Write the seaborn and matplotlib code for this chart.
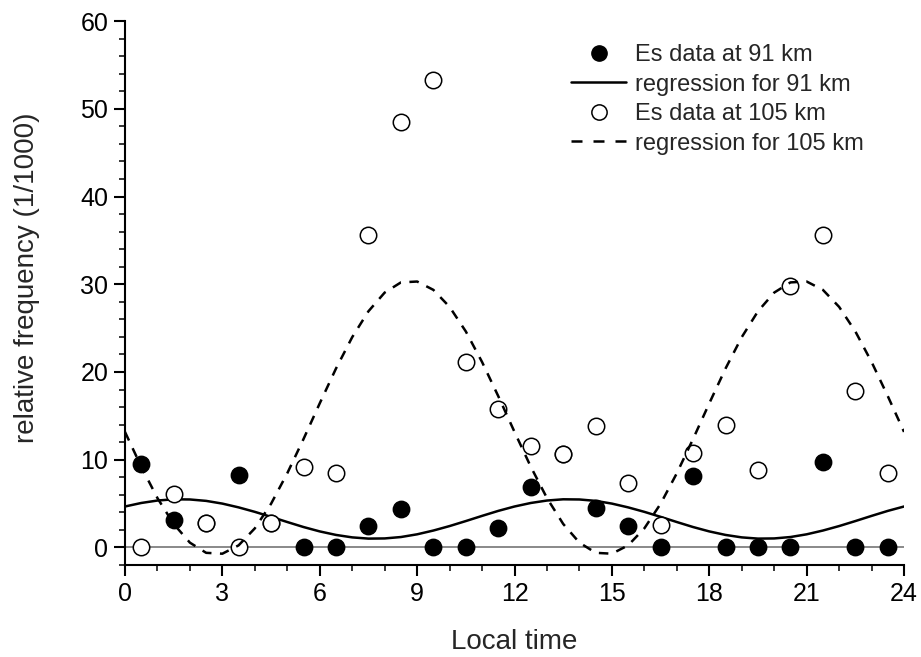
import numpy as np
import pandas as pd
import matplotlib
matplotlib.use("Agg")
import matplotlib.pyplot as plt
import seaborn as sns
from matplotlib.lines import Line2D
from matplotlib.ticker import MultipleLocator

# ---- data ----
hours = [0.5, 1.5, 2.5, 3.5, 4.5, 5.5, 6.5, 7.5, 8.5, 9.5, 10.5, 11.5,
         12.5, 13.5, 14.5, 15.5, 16.5, 17.5, 18.5, 19.5, 20.5, 21.5, 22.5, 23.5]
es91 = [9.5, 3.1, 2.8, 8.3, 2.8, 0.0, 0.0, 2.5, 4.4, 0.0, 0.0, 2.2,
        6.9, 10.7, 4.55, 2.5, 0.0, 8.1, 0.0, 0.0, 0.0, 9.7, 0.0, 0.0]
es105 = [0.0, 6.1, 2.8, 0.0, 2.8, 9.2, 8.5, 35.6, 48.5, 53.3, 21.1, 15.8,
         11.6, 10.7, 13.8, 7.4, 2.6, 10.75, 14.0, 8.85, 29.8, 35.6, 17.8, 8.5]

curve_t = [0.0, 0.5, 1.0, 1.5, 2.0, 2.5, 3.0, 3.5, 4.0, 4.5, 5.0, 5.5,
           6.0, 6.5, 7.0, 7.5, 8.0, 8.5, 9.0, 9.5, 10.0, 10.5, 11.0, 11.5,
           12.0, 12.5, 13.0, 13.5, 14.0, 14.5, 15.0, 15.5, 16.0, 16.5, 17.0, 17.5,
           18.0, 18.5, 19.0, 19.5, 20.0, 20.5, 21.0, 21.5, 22.0, 22.5, 23.0, 23.5, 24.0]
reg91 = [4.67, 5.07, 5.35, 5.49, 5.47, 5.31, 5.00, 4.57, 4.06, 3.49, 2.90, 2.33,
         1.83, 1.43, 1.15, 1.01, 1.03, 1.19, 1.50, 1.93, 2.44, 3.01, 3.60, 4.17,
         4.67, 5.07, 5.35, 5.49, 5.47, 5.31, 5.00, 4.57, 4.06, 3.49, 2.90, 2.33,
         1.83, 1.43, 1.15, 1.01, 1.03, 1.19, 1.50, 1.93, 2.44, 3.01, 3.60, 4.17, 4.67]
reg105 = [13.17, 9.21, 5.63, 2.68, 0.55, -0.61, -0.71, 0.24, 2.18, 4.98, 8.46, 12.36,
          16.43, 20.39, 23.97, 26.92, 29.05, 30.21, 30.31, 29.36, 27.42, 24.62, 21.14, 17.24,
          13.17, 9.21, 5.63, 2.68, 0.55, -0.61, -0.71, 0.24, 2.18, 4.98, 8.46, 12.36,
          16.43, 20.39, 23.97, 26.92, 29.05, 30.21, 30.31, 29.36, 27.42, 24.62, 21.14, 17.24, 13.17]

sns.set_style("ticks")
plt.rcParams['font.family'] = ['Liberation Sans', 'DejaVu Sans']

fig = plt.figure(figsize=(9.21, 6.57), dpi=100)
ax = fig.add_axes([0.1357, 0.140, 0.8459, 0.828])

pts = pd.DataFrame({"t": hours, "es91": es91, "es105": es105})
cur = pd.DataFrame({"t": curve_t, "reg91": reg91, "reg105": reg105})

LW = 1.8
DASH = (3.8, 3.4)
LEG_DASH = (4.4, 4.4)

ax.axhline(0, color="#808080", lw=1.3, zorder=1)

sns.lineplot(data=cur, x="t", y="reg91", ax=ax, color="black", lw=LW, zorder=2)
sns.lineplot(data=cur, x="t", y="reg105", ax=ax, color="black", lw=LW, zorder=5)
ax.lines[-1].set_dashes(DASH)

sns.scatterplot(data=pts, x="t", y="es91", ax=ax, color="black", edgecolor="black",
                s=140, linewidth=1, zorder=3)
sns.scatterplot(data=pts, x="t", y="es105", ax=ax, color="white", edgecolor="black",
                s=140, linewidth=1.1, zorder=4)

ax.set_xlim(0, 24)
ax.set_ylim(-2, 60)
ax.xaxis.set_major_locator(MultipleLocator(3))
ax.xaxis.set_minor_locator(MultipleLocator(1))
ax.yaxis.set_major_locator(MultipleLocator(10))
ax.yaxis.set_minor_locator(MultipleLocator(2))
ax.tick_params(which="major", direction="out", length=8, width=1.5, labelsize=18,
               colors="black", pad=4)
ax.tick_params(which="minor", direction="out", length=4.5, width=1.3)
for s in ["left", "bottom"]:
    ax.spines[s].set_linewidth(1.5)
    ax.spines[s].set_color("black")
ax.spines["top"].set_visible(False)
ax.spines["right"].set_visible(False)

ax.set_xlabel("Local time", fontsize=20, labelpad=17)
ax.set_ylabel("relative frequency (1/1000)", fontsize=20)
ax.yaxis.set_label_coords(-0.109, 0.528)

handles = [
    Line2D([], [], marker="o", ls="none", color="black", markerfacecolor="black", markersize=11),
    Line2D([], [], color="black", lw=LW),
    Line2D([], [], marker="o", ls="none", color="black", markerfacecolor="white", markersize=11,
           markeredgewidth=1.1),
    Line2D([], [], color="black", lw=LW, dashes=LEG_DASH),
]
labels = ["Es data at 91 km", "regression for 91 km", "Es data at 105 km", "regression for 105 km"]
fig.legend(handles, labels, loc="upper left", bbox_to_anchor=(571 / 921, 1 - 44 / 657),
           frameon=False, fontsize=17, handlelength=2.35, handletextpad=0.35,
           labelspacing=0.32, borderpad=0, borderaxespad=0)

fig.savefig("out.png", dpi=100)
